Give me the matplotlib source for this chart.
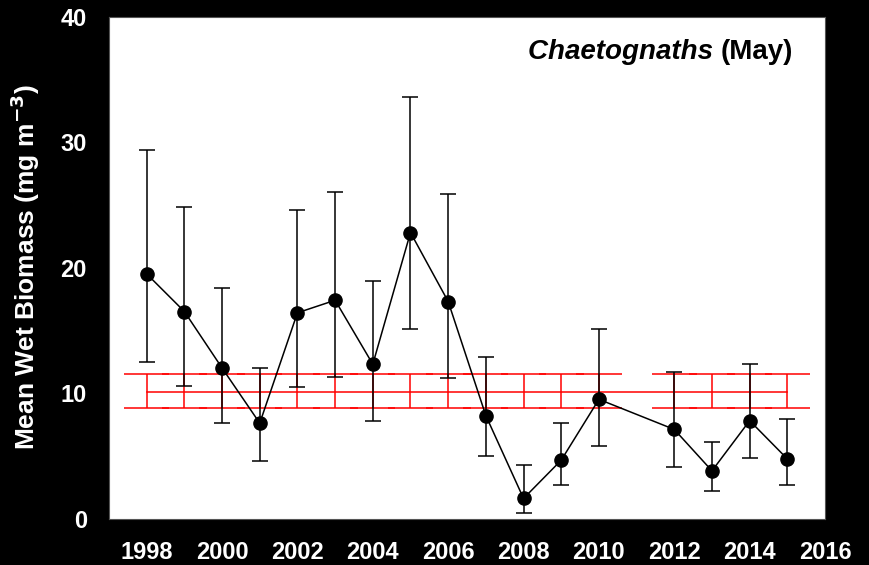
import matplotlib
matplotlib.use("Agg")
import matplotlib.pyplot as plt
import numpy as np

plt.rcParams['font.family'] = ['Liberation Sans', 'DejaVu Sans']

# Data
years = [1998, 1999, 2000, 2001, 2002, 2003, 2004, 2005, 2006, 2007, 2008, 2009, 2010,
         2012, 2013, 2014, 2015]
biomass = [19.5, 16.5, 12.0, 7.6, 16.4, 17.4, 12.3, 22.8, 17.3, 8.2, 1.6, 4.65, 9.5,
           7.1, 3.8, 7.8, 4.75]
upper_ci = [29.4, 24.8, 18.4, 12.0, 24.6, 26.0, 18.9, 33.6, 25.9, 12.9, 4.3, 7.6, 15.1,
            11.7, 6.1, 12.35, 7.9]
lower_ci = [12.5, 10.6, 7.6, 4.6, 10.5, 11.3, 7.8, 15.1, 11.2, 5.0, 0.45, 2.7, 5.8,
            4.1, 2.2, 4.8, 2.7]

# Reference (long-term mean +/- 0.5 SD) band
ref_mean = 10.1
ref_upper = 11.55
ref_lower = 8.8

xticks = [1998, 2000, 2002, 2004, 2006, 2008, 2010, 2012, 2014, 2016]
yticks = [0, 10, 20, 30, 40]

fig = plt.figure(figsize=(8.7, 5.65), dpi=100, facecolor='black')
ax = fig.add_axes([0.1253, 0.0823, 0.823, 0.888])
ax.set_facecolor('white')

yrs = np.array(years, dtype=float)
# red reference band
half = 0.6
ax.hlines([ref_upper] * len(yrs), yrs - half, yrs + half, colors='red', lw=1.1, zorder=1)
ax.hlines([ref_lower] * len(yrs), yrs - half, yrs + half, colors='red', lw=1.1, zorder=1)
ax.vlines(yrs, ref_lower, ref_upper, colors='red', lw=1.1, zorder=1)
ax.plot(yrs, [ref_mean] * len(yrs), color='red', lw=1.1, zorder=1)

m = np.array(biomass)
err = [m - np.array(lower_ci), np.array(upper_ci) - m]
ax.errorbar(yrs, m, yerr=err, fmt='o-', color='black', ms=9.5, lw=1.1,
            elinewidth=1.1, capsize=5.5, capthick=1.1, zorder=3)

ax.set_xlim(1997, 2016)
ax.set_ylim(0, 40)
ax.set_xticks(xticks)
ax.set_yticks(yticks)
ax.tick_params(axis='both', length=0, colors='white', labelsize=17)
ax.tick_params(axis='x', pad=16)
ax.tick_params(axis='y', pad=16)
for lab in ax.get_xticklabels() + ax.get_yticklabels():
    lab.set_fontweight('bold')
for s in ax.spines.values():
    s.set_color('#555555')
    s.set_linewidth(0.8)

ax.set_ylabel('Mean Wet Biomass (mg m$^{\\mathbf{-3}}$)', color='white', fontsize=19,
              fontweight='bold')
ax.yaxis.set_label_coords(-0.094, 0.5)

t2 = ax.text(0.955, 0.93, '(May)', transform=ax.transAxes, ha='right', va='center',
             fontsize=20, fontweight='bold', color='black')
ax.annotate('Chaetognaths ', xy=(0, 0.5), xycoords=t2, ha='right', va='center',
            fontsize=20, fontweight='bold', fontstyle='italic', color='black')

fig.savefig('out.png', dpi=100, facecolor='black')
